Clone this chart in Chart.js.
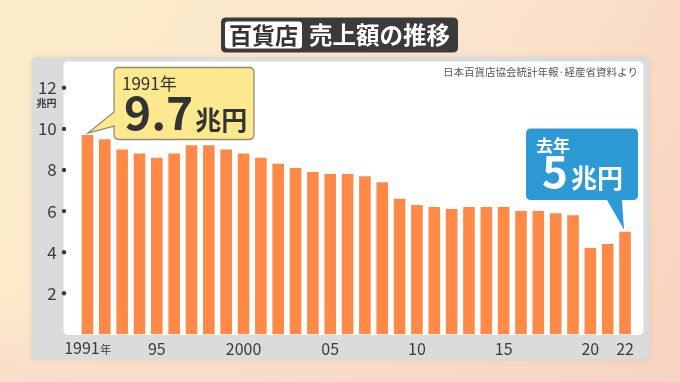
<!DOCTYPE html>
<html><head><meta charset="utf-8">
<script src="https://cdn.jsdelivr.net/npm/chart.js@4/dist/chart.umd.min.js"></script>
<style>html,body{margin:0;padding:0;}body{width:680px;height:382px;overflow:hidden;}#wrap{position:relative;width:680px;height:382px;}</style>
</head><body><div id="wrap"><canvas id="c" width="680" height="382"></canvas></div>
<script>
const years = [1991,1992,1993,1994,1995,1996,1997,1998,1999,2000,2001,2002,2003,2004,2005,2006,2007,2008,2009,2010,2011,2012,2013,2014,2015,2016,2017,2018,2019,2020,2021,2022];
const sales = [9.7,9.5,9.0,8.8,8.6,8.8,9.2,9.2,9.0,8.8,8.6,8.3,8.1,7.9,7.8,7.8,7.7,7.4,6.6,6.3,6.2,6.1,6.2,6.2,6.2,6.0,6.0,5.9,5.8,4.2,4.4,5.0];
const xTickLabels = {1991:'1991',1995:'95',2000:'2000',2005:'05',2010:'10',2015:'15',2020:'20',2022:'22'};
const yTicks = [2,4,6,8,10,12];
const titleBoxText = '百貨店';
const titleText = '売上額の推移';
const sourceText = '日本百貨店協会統計年報·経産省資料より';
const unitText = '兆円';
const callout1 = {yearText:'1991年', value:'9.7', unit:'兆円', index:0};
const callout2 = {yearText:'去年', value:'5', unit:'兆円', index:31};

const FONT = '"Noto Sans CJK JP", "Noto Sans", sans-serif';

function rr(ctx,x,y,w,h,r){ctx.beginPath();ctx.moveTo(x+r,y);ctx.lineTo(x+w-r,y);ctx.quadraticCurveTo(x+w,y,x+w,y+r);ctx.lineTo(x+w,y+h-r);ctx.quadraticCurveTo(x+w,y+h,x+w-r,y+h);ctx.lineTo(x+r,y+h);ctx.quadraticCurveTo(x,y+h,x,y+h-r);ctx.lineTo(x,y+r);ctx.quadraticCurveTo(x,y,x+r,y);ctx.closePath();}

const deco = {
  id:'deco',
  beforeDraw(chart){
    const ctx = chart.ctx;
    ctx.save();
    // background gradient
    let g = ctx.createLinearGradient(0,0,680,382);
    g.addColorStop(0,'#fcecc8');
    g.addColorStop(0.5,'#fbe6cf');
    g.addColorStop(1,'#f8d2bd');
    ctx.fillStyle = g; ctx.fillRect(0,0,680,382);
    let g2 = ctx.createLinearGradient(0,300,0,382);
    g2.addColorStop(0,'rgba(248,214,200,0)');
    g2.addColorStop(1,'rgba(246,212,200,0.6)');
    ctx.fillStyle = g2; ctx.fillRect(0,300,680,82);
    // title
    ctx.fillStyle = '#3b3b3b';
    rr(ctx,221,17.5,237,35,5); ctx.fill();
    ctx.fillStyle = '#ffffff';
    rr(ctx,225,21.5,77,27,3); ctx.fill();
    ctx.font = 'bold 23px '+FONT;
    ctx.textBaseline = 'middle'; ctx.textAlign='center';
    ctx.fillStyle = '#333333';
    ctx.fillText(titleBoxText,263.5,35.5);
    ctx.fillStyle = '#ffffff'; ctx.textAlign='left';
    ctx.font = 'bold 23.5px '+FONT;
    ctx.fillText(titleText,309,35.5);
    // panel
    ctx.shadowColor='rgba(0,0,0,0.08)'; ctx.shadowBlur=4;
    ctx.fillStyle = '#d9dcdb';
    rr(ctx,31.5,57,618,302.5,6); ctx.fill();
    ctx.shadowBlur=0; ctx.shadowColor='transparent';
    ctx.fillStyle = '#ffffff';
    rr(ctx,63.5,61.5,580,273.5,5); ctx.fill();
    // source
    ctx.fillStyle='#555555'; ctx.font='10.5px '+FONT; ctx.textAlign='right';
    ctx.fillText(sourceText,638,72);
    ctx.restore();
  },
  afterDraw(chart){
    const ctx = chart.ctx;
    const xs = chart.scales.x, ys = chart.scales.y;
    ctx.save();
    // y dots
    ctx.fillStyle='#3a3a3a';
    yTicks.forEach(v=>{ctx.beginPath();ctx.arc(64,ys.getPixelForValue(v),2.2,0,Math.PI*2);ctx.fill();});
    // unit under 12
    ctx.font='bold 10px '+FONT; ctx.textAlign='center'; ctx.textBaseline='middle';
    ctx.fillText(unitText,46.5,ys.getPixelForValue(12)+15.5);
    // first x label with small 年
    const x0 = xs.getPixelForValue(0);
    ctx.font='16px '+FONT; ctx.textAlign='left';
    const w1 = ctx.measureText('1991').width;
    ctx.font='11px '+FONT;
    const w2 = ctx.measureText('年').width;
    const sx = x0 - (w1+w2)/2;
    ctx.font='16px '+FONT; ctx.fillStyle='#3a3a3a';
    ctx.fillText('1991',sx,348);
    ctx.font='11px '+FONT;
    ctx.fillText('年',sx+w1+0.5,350);

    // callout 1
    const t1x = xs.getPixelForValue(callout1.index), t1y = ys.getPixelForValue(sales[callout1.index]) - 2;
    ctx.fillStyle='#fce98f'; ctx.strokeStyle='#8f8c72'; ctx.lineWidth=1.3;
    ctx.beginPath();
    ctx.moveTo(119,67.5); ctx.lineTo(249,67.5); ctx.quadraticCurveTo(254,67.5,254,72.5);
    ctx.lineTo(254,134.5); ctx.quadraticCurveTo(254,139.5,249,139.5);
    ctx.lineTo(119,139.5); ctx.quadraticCurveTo(114,139.5,114,134.5);
    ctx.lineTo(114,126); ctx.lineTo(t1x+0.5,t1y); ctx.lineTo(114,112);
    ctx.lineTo(114,72.5); ctx.quadraticCurveTo(114,67.5,119,67.5);
    ctx.closePath(); ctx.fill(); ctx.stroke();
    ctx.fillStyle='#333333'; ctx.textAlign='left'; ctx.textBaseline='alphabetic';
    ctx.font='17px '+FONT;
    ctx.fillText(callout1.yearText,122,90);
    ctx.font='bold 46px '+FONT;
    ctx.fillText(callout1.value,124,130);
    const vw = ctx.measureText(callout1.value).width;
    ctx.font='bold 26px '+FONT;
    ctx.fillText(callout1.unit,124+vw+2,130);

    // callout 2
    const t2x = xs.getPixelForValue(callout2.index), t2y = ys.getPixelForValue(sales[callout2.index]) - 2;
    ctx.fillStyle='#2e9ad5';
    ctx.beginPath();
    ctx.moveTo(531,128.5); ctx.lineTo(633,128.5); ctx.quadraticCurveTo(638,128.5,638,133.5);
    ctx.lineTo(638,195); ctx.quadraticCurveTo(638,200,633,200);
    ctx.lineTo(622,200); ctx.lineTo(t2x-1,t2y); ctx.lineTo(607,200);
    ctx.lineTo(531,200); ctx.quadraticCurveTo(526,200,526,195);
    ctx.lineTo(526,133.5); ctx.quadraticCurveTo(526,128.5,531,128.5);
    ctx.closePath(); ctx.fill();
    ctx.fillStyle='#ffffff';
    ctx.font='bold 17px '+FONT;
    ctx.fillText(callout2.yearText,536,152);
    ctx.font='bold 44px '+FONT;
    ctx.fillText(callout2.value,542,188);
    const vw2 = ctx.measureText(callout2.value).width;
    ctx.font='bold 26px '+FONT;
    ctx.fillText(callout2.unit,542+vw2+3,188);
    ctx.restore();
  }
};

new Chart(document.getElementById('c'),{
  type:'bar',
  data:{labels:years.map(String),datasets:[{data:sales,backgroundColor:'#ff8a47',borderWidth:0,barPercentage:0.67,categoryPercentage:1}]},
  options:{
    responsive:false,animation:false,
    layout:{padding:{left:0,top:87.8,right:46.3,bottom:22.6}},
    plugins:{legend:{display:false},tooltip:{enabled:false}},
    scales:{
      x:{grid:{display:false,drawTicks:false},border:{display:false},
         afterFit(s){s.height=25;},
         ticks:{autoSkip:false,maxRotation:0,padding:5,color:'#3a3a3a',font:{family:FONT,size:16},
           callback(v,i){const y=years[i];return (y===1991)?'':(xTickLabels[y]||'');}}},
      y:{min:0,max:12,grid:{display:false,drawTicks:false},border:{display:false},
         afterFit(s){s.width=78.8;},
         ticks:{stepSize:2,padding:22,color:'#3a3a3a',font:{family:FONT,size:17},
           callback(v){return yTicks.includes(v)?String(v):'';}}}
    }
  },
  plugins:[deco]
});
</script></body></html>
